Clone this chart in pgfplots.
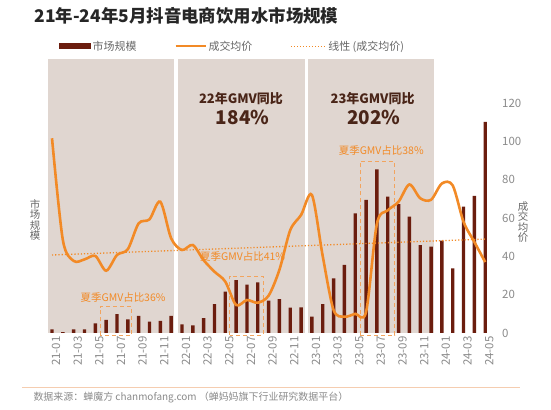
\documentclass[border=0pt]{standalone}
\usepackage{fontspec}
\setmainfont{Noto Sans CJK SC}
\usepackage{pgfplots}
\pgfplotsset{compat=1.18}
\usepackage{pgfplotstable}
\definecolor{barc}{HTML}{6B1D0E}
\definecolor{linec}{HTML}{F28A26}
\definecolor{shadec}{RGB}{224,214,208}
\definecolor{boxc}{HTML}{F2A45E}
\definecolor{darkt}{HTML}{4A2518}
\definecolor{grayt}{HTML}{8A8A8A}
\definecolor{legt}{HTML}{666666}
\definecolor{footl}{HTML}{F5CDB0}

\pgfplotstableread{
x y
0 1.9
1 0.4
2 1.9
3 1.9
4 5.0
5 6.8
6 9.9
7 7.1
8 8.9
9 5.9
10 6.3
11 8.9
12 4.5
13 4.0
14 7.7
15 15.0
16 21.6
17 27.6
18 25.2
19 26.4
20 16.9
21 17.7
22 13.3
23 13.4
24 8.6
25 15.1
26 28.5
27 35.5
28 62.4
29 69.4
30 85.4
31 71.1
32 67.3
33 60.7
34 45.9
35 45.0
36 48.2
37 33.7
38 65.9
39 71.5
40 110.2
}\bars

\pgfplotstableread{
x y
0 101.6
1 48.5
2 37.6
3 38.4
4 40.2
5 32.5
6 40.7
7 43.7
8 57.2
9 59.3
10 68.5
11 49.4
12 43.3
13 45.9
14 38.0
15 32.0
16 26.8
17 14.6
18 17.2
19 15.8
20 19.5
21 33.0
22 53.7
23 61.6
24 72.0
25 40.0
26 12.0
27 8.5
28 10.0
29 11.0
30 57.0
31 64.0
32 68.5
33 77.5
34 70.3
35 69.5
36 78.0
37 77.0
38 58.0
39 47.5
40 37.0
}\price

\begin{document}
\begin{tikzpicture}
\path[use as bounding box] (0,0) rectangle (551bp,410bp);
\begin{axis}[
  at={(46.6bp,77bp)}, anchor=south west,
  scale only axis, width=445.1bp, height=273.7bp,
  xmin=-0.5, xmax=40.6, ymin=0, ymax=142.8,
  axis x line*=bottom, axis y line*=right,
  axis line style={draw=none},
  tick style={draw=none},
  major tick length=0pt,
  xtick={0,2,...,40},
  xticklabels={21-01,21-03,21-05,21-07,21-09,21-11,22-01,22-03,22-05,22-07,22-09,22-11,23-01,23-03,23-05,23-07,23-09,23-11,24-01,24-03,24-05},
  xticklabel style={rotate=90, anchor=east, font=\fontsize{11.5}{11.5}\selectfont, text=grayt, yshift=-4bp},
  ytick={0,20,...,120},
  yticklabel style={font=\fontsize{11.5}{11.5}\selectfont, text=grayt, xshift=7bp},
  /pgf/number format/assume math mode=true,
  clip=false,
  legend columns=3,
  legend style={draw=none, fill=none, at={(0.418,1.048)}, anchor=center,
    font=\fontsize{11}{11}\selectfont, text=legt,
    /tikz/every even column/.append style={column sep=36bp}},
]
% shaded year regions
\addplot[fill=shadec, draw=none, forget plot] coordinates {(-0.35,0) (-0.35,142.8) (11.28,142.8) (11.28,0)} -- cycle;
\addplot[fill=shadec, draw=none, forget plot] coordinates {(11.67,0) (11.67,142.8) (23.33,142.8) (23.33,0)} -- cycle;
\addplot[fill=shadec, draw=none, forget plot] coordinates {(23.67,0) (23.67,142.8) (35.25,142.8) (35.25,0)} -- cycle;
% bars
\addplot[ybar, bar width=3.4bp, bar shift=0pt, fill=barc, draw=none, forget plot] table[x=x,y=y] {\bars};
% dashed boxes
\addplot[boxc, line width=0.9bp, dash pattern=on 4bp off 3bp, forget plot] coordinates {(4.43,-1.2) (4.43,13.7) (7.36,13.7) (7.36,-1.2) (4.43,-1.2)};
\addplot[boxc, line width=0.9bp, dash pattern=on 4bp off 3bp, forget plot] coordinates {(16.4,-1.2) (16.4,29.7) (19.5,29.7) (19.5,-1.2) (16.4,-1.2)};
\addplot[boxc, line width=0.9bp, dash pattern=on 4bp off 3bp, forget plot] coordinates {(28.45,-1.2) (28.45,89.4) (31.65,89.4) (31.65,-1.2) (28.45,-1.2)};
% trend
\addplot[linec, line width=1.3bp, dash pattern=on 1.2bp off 2bp, forget plot] coordinates {(0,40.7) (40,49)};
% price line
\addplot[linec, line width=2.6bp, smooth, tension=0.5, forget plot] table[x=x,y=y] {\price};

\addlegendimage{legend image code/.code={\fill[barc] (0bp,-2.5bp) rectangle (31bp,2.5bp);}}
\addlegendentry{市场规模}
\addlegendimage{legend image code/.code={\draw[linec, line width=2bp] (0bp,0bp) -- (30bp,0bp);}}
\addlegendentry{成交均价}
\addlegendimage{legend image code/.code={\draw[linec, line width=1bp, dash pattern=on 1bp off 2bp] (0bp,0bp) -- (35bp,0bp);}}
\addlegendentry{线性 (成交均价)}

\node[font=\fontsize{10.5}{10.5}\selectfont, text=linec] at (axis cs:6.56,18.3) {夏季GMV占比36\%};
\node[font=\fontsize{10.5}{10.5}\selectfont, text=linec] at (axis cs:17.6,39.8) {夏季GMV占比41\%};
\node[font=\fontsize{10.5}{10.5}\selectfont, text=linec] at (axis cs:30.4,95.1) {夏季GMV占比38\%};
\node[font=\fontsize{13}{13}\selectfont\bfseries, text=darkt] at (axis cs:17.45,122.4) {22年GMV同比};
\node[font=\fontsize{19}{19}\selectfont\bfseries, text=darkt] at (axis cs:17.6,112.6) {184\%};
\node[font=\fontsize{13}{13}\selectfont\bfseries, text=darkt] at (axis cs:29.6,122.4) {23年GMV同比};
\node[font=\fontsize{19}{19}\selectfont\bfseries, text=darkt] at (axis cs:29.7,112.6) {202\%};
\end{axis}
\node[anchor=west, font=\fontsize{17.5}{17.5}\selectfont\bfseries, text=black!85] at (31bp,394bp) {21年-24年5月抖音电商饮用水市场规模};
\node[font=\fontsize{10.5}{10.5}\selectfont, text=legt, align=center] at (35bp,190bp) {市\\场\\规\\模};
\node[font=\fontsize{10.5}{10.5}\selectfont, text=legt, align=center] at (523bp,188bp) {成\\交\\均\\价};
\draw[footl, line width=0.7bp] (22bp,23bp) -- (520bp,23bp);
\node[anchor=west, font=\fontsize{10}{10}\selectfont, text=grayt] at (30bp,13bp) {数据来源：蝉魔方 chanmofang.com （蝉妈妈旗下行业研究数据平台）};
\end{tikzpicture}
\end{document}
